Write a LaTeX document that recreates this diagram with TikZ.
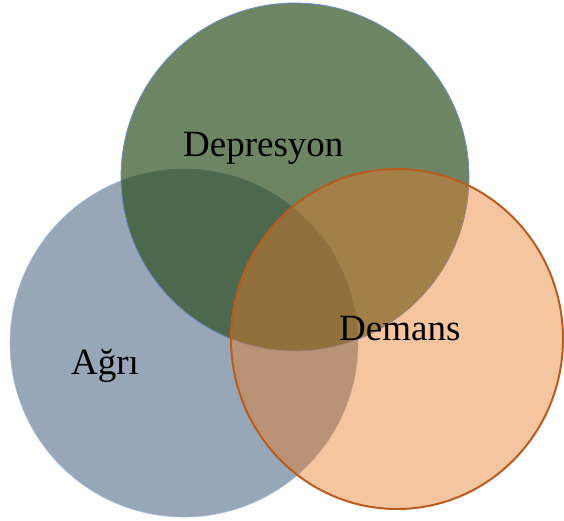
\documentclass[tikz,border=0pt]{standalone}
\usepackage{fontspec}
\setmainfont{Liberation Serif}

\begin{document}
\begin{tikzpicture}[x=1pt, y=-1pt]

\definecolor{agricolor}{RGB}{151, 167, 183}
\definecolor{depcolor}{RGB}{45, 78, 30}
\definecolor{demcolor}{RGB}{232, 123, 39}
\definecolor{depline}{RGB}{110, 140, 205}
\definecolor{demline}{RGB}{185, 92, 32}

\useasboundingbox (0, 0) rectangle (564, 521);

% circles
\fill[agricolor] (184, 343) circle (174);
\draw[depline!60, line width=0.6] (184, 343) circle (174);

\fill[depcolor, opacity=0.69] (295, 177) circle (174);
\draw[depline, line width=0.8] (295, 177) circle (174);

\fill[demcolor, opacity=0.44] (397, 339) ellipse (166 and 170);
\draw[demline, line width=2] (397, 339) ellipse (166 and 170);

% labels
\node[anchor=base west, inner sep=0, font=\fontsize{37}{41}\selectfont] (dep) at (183, 157) {Depresyon};
\node[anchor=base west, inner sep=0, font=\fontsize{37}{41}\selectfont] (dem) at (339, 340) {Demans};
\node[anchor=base west, inner sep=0, font=\fontsize{37}{41}\selectfont] (agri) at (71, 374) {Ağrı};

\end{tikzpicture}
\end{document}
